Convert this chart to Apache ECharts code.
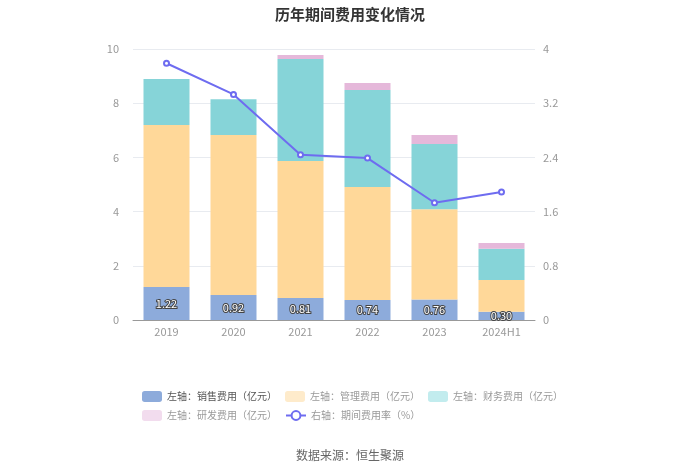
<!DOCTYPE html>
<html><head><meta charset="utf-8">
<script src="https://cdn.jsdelivr.net/npm/echarts@6/dist/echarts.min.js"></script>
<style>html,body{margin:0;padding:0;background:#fff}#c{width:700px;height:473px}</style>
</head><body><div id="c"></div>
<script>
const categories = ['2019','2020','2021','2022','2023','2024H1'];
const sales   = [1.22, 0.92, 0.81, 0.74, 0.76, 0.30];
const mgmt    = [5.98, 5.91, 5.06, 4.17, 3.33, 1.18];
const finance = [1.69, 1.32, 3.76, 3.58, 2.40, 1.15];
const rnd     = [0.00, 0.00, 0.15, 0.26, 0.34, 0.21];
const rate    = [3.79, 3.33, 2.44, 2.39, 1.73, 1.89];
const leftTicks = [0, 2, 4, 6, 8, 10];
const rightTicks = [0, 0.8, 1.6, 2.4, 3.2, 4];

const chart = echarts.init(document.getElementById('c'));
const FONT = '"Noto Sans CJK SC", "Noto Sans", sans-serif';
const barW = 46;
const N = ['左轴：销售费用（亿元）','左轴：管理费用（亿元）','左轴：财务费用（亿元）','左轴：研发费用（亿元）','右轴：期间费用率（%）'];
const legendBase = {
  left: 142, padding: 0, itemWidth: 20, itemHeight: 11, itemGap: 8, orient: 'horizontal',
  textStyle: {color: '#999', fontSize: 10, fontFamily: FONT}
};
chart.setOption({
  animation: false,
  textStyle: {fontFamily: FONT},
  title: {text: '历年期间费用变化情况', left: 'center', top: 2,
    textStyle: {fontSize: 15, fontWeight: 'bold', color: '#333', fontFamily: FONT}},
  grid: {left: 133, right: 165, top: 49, bottom: 153},
  legend: [
    Object.assign({}, legendBase, {top: 391, data: [
      {name: N[0], textStyle: {color: '#555'}},
      {name: N[1], itemStyle: {color: '#FEEBCB'}},
      {name: N[2], itemStyle: {color: '#C2ECEE'}}
    ]}),
    Object.assign({}, legendBase, {top: 410, data: [
      {name: N[3], itemStyle: {color: '#F2DCEE'}},
      {name: N[4]}
    ]})
  ],
  graphic: [{type: 'text', left: 'center', top: 449,
    style: {text: '数据来源：恒生聚源', fill: '#666', fontSize: 12, fontFamily: FONT}}],
  xAxis: {type: 'category', data: categories,
    axisLine: {lineStyle: {color: '#999'}},
    axisTick: {alignWithLabel: true, lineStyle: {color: '#999'}},
    axisLabel: {color: '#999', fontSize: 11, margin: 6}},
  yAxis: [
    {type: 'value', min: 0, max: 10, interval: 2,
     axisLabel: {color: '#999', fontSize: 11, margin: 14},
     splitLine: {lineStyle: {color: '#E8EBF0'}}, axisLine: {show: false}, axisTick: {show: false}},
    {type: 'value', min: 0, max: 4, interval: 0.8,
     axisLabel: {color: '#999', fontSize: 11, margin: 8},
     splitLine: {show: false}, axisLine: {show: false}, axisTick: {show: false}}
  ],
  series: [
    {name: N[0], type: 'bar', stack: 'a', data: sales, barWidth: barW,
     itemStyle: {color: '#8DABDB'},
     label: {show: true, position: 'inside', formatter: p => p.value.toFixed(2),
       color: '#fff', fontSize: 11, textBorderColor: '#444', textBorderWidth: 2}},
    {name: N[1], type: 'bar', stack: 'a', data: mgmt, barWidth: barW,
     itemStyle: {color: '#FFD899'}},
    {name: N[2], type: 'bar', stack: 'a', data: finance, barWidth: barW,
     itemStyle: {color: '#86D4D8'}},
    {name: N[3], type: 'bar', stack: 'a', data: rnd, barWidth: barW,
     itemStyle: {color: '#E5B8DA'}},
    {name: N[4], type: 'line', yAxisIndex: 1, data: rate,
     symbol: 'emptyCircle', symbolSize: 5,
     lineStyle: {color: '#6E6CF0', width: 2}, itemStyle: {color: '#6E6CF0'}}
  ]
});
</script></body></html>
